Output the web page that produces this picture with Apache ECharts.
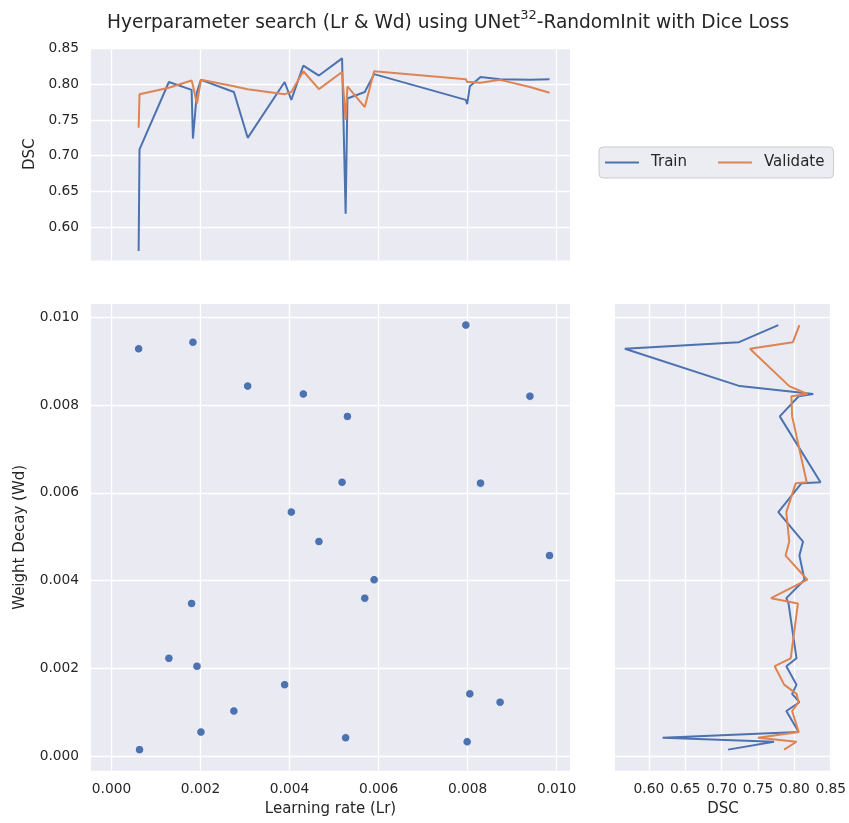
<!DOCTYPE html>
<html>
<head>
<meta charset="utf-8">
<title>Hyperparameter search</title>
<script src="https://cdn.jsdelivr.net/npm/echarts@6/dist/echarts.min.js"></script>
<style>
  html, body { margin: 0; padding: 0; background: #ffffff; }
  #chart { width: 849px; height: 823px; }
</style>
</head>
<body>
<div id="chart"></div>
<script>
// One row per training run: learning rate, weight decay, final train / validation Dice score
const learningRate = [0.00061, 0.00063, 0.00129, 0.00180, 0.00183, 0.00192, 0.00201, 0.00275, 0.00306,
  0.00389, 0.00404, 0.00431, 0.00466, 0.00518, 0.00526, 0.00530, 0.00569, 0.00590,
  0.00796, 0.00799, 0.00805, 0.00829, 0.00873, 0.00940, 0.00984];
const weightDecay = [0.00928, 0.00015, 0.00223, 0.00348, 0.00943, 0.00205, 0.00055, 0.00103, 0.00843,
  0.00163, 0.00556, 0.00825, 0.00489, 0.00624, 0.00042, 0.00774, 0.00360, 0.00402,
  0.00982, 0.00033, 0.00142, 0.00622, 0.00123, 0.00820, 0.00457];
const trainDsc = [0.567, 0.709, 0.803, 0.792, 0.724, 0.789, 0.806, 0.789, 0.725,
  0.803, 0.778, 0.826, 0.812, 0.836, 0.619, 0.780, 0.789, 0.814,
  0.778, 0.772, 0.797, 0.810, 0.807, 0.806, 0.807];
const validateDsc = [0.739, 0.786, 0.795, 0.805, 0.798, 0.773, 0.806, 0.797, 0.793,
  0.786, 0.789, 0.818, 0.793, 0.817, 0.750, 0.797, 0.768, 0.818,
  0.807, 0.803, 0.803, 0.802, 0.806, 0.796, 0.788];

const seriesNames = ['Train', 'Validate'];
const titleParts = ['Hyerparameter search (Lr & Wd) using UNet', '32', '-RandomInit with Dice Loss'];

// Axis extents (data range plus a 5% margin) and tick steps
const lrRange = [-0.00046, 0.0103];
const wdRange = [-0.00033, 0.0103];
const dscRange = [0.5535, 0.8505];
const lrStep = 0.002, wdStep = 0.002, dscStep = 0.05;

const BLUE = '#4C72B0', ORANGE = '#DD8452';
const FACE = '#EAEAF2', TEXT = '#262626';
const FONT = 'DejaVu Sans';

const byLr = learningRate.map((_, i) => i).sort((a, b) => learningRate[a] - learningRate[b]);
const byWd = weightDecay.map((_, i) => i).sort((a, b) => weightDecay[a] - weightDecay[b]);

const gridBox = [
  { left: 91, top: 48, width: 479, height: 212.6, backgroundColor: FACE, show: true, borderWidth: 0 },   // marginal: Lr vs DSC
  { left: 91, top: 304, width: 479, height: 466.7, backgroundColor: FACE, show: true, borderWidth: 0 },  // joint: Lr vs Wd
  { left: 615, top: 304, width: 217.3, height: 466.7, backgroundColor: FACE, show: true, borderWidth: 0 } // marginal: DSC vs Wd
];

function valueAxis(gridIndex, range, step, decimals, opts) {
  return Object.assign({
    type: 'value',
    gridIndex: gridIndex,
    min: range[0],
    max: range[1],
    minInterval: step,
    maxInterval: step,
    axisLine: { show: false },
    axisTick: { show: false },
    axisLabel: {
      show: true,
      showMinLabel: false,
      showMaxLabel: false,
      color: TEXT,
      fontFamily: FONT,
      fontSize: 13.75,
      margin: 12,
      formatter: v => v.toFixed(decimals)
    },
    splitLine: {
      show: true,
      showMinLine: false,
      showMaxLine: false,
      lineStyle: { color: '#ffffff', width: 1.3 }
    },
    nameTextStyle: { color: TEXT, fontFamily: FONT, fontSize: 15 }
  }, opts || {});
}

const xAxes = [
  valueAxis(0, lrRange, lrStep, 3),
  valueAxis(1, lrRange, lrStep, 3, { name: 'Learning rate (Lr)', nameLocation: 'middle', nameGap: 31 }),
  valueAxis(2, dscRange, dscStep, 2, { name: 'DSC', nameLocation: 'middle', nameGap: 31 })
];
// the marginal panels share their axis with the joint panel, so they carry no tick text there
xAxes[0].axisLabel = { show: false };

const yAxes = [
  valueAxis(0, dscRange, dscStep, 2, { name: 'DSC', nameLocation: 'middle', nameGap: 44 }),
  valueAxis(1, wdRange, wdStep, 3, { name: 'Weight Decay (Wd)', nameLocation: 'middle', nameGap: 63 }),
  valueAxis(2, wdRange, wdStep, 3)
];
yAxes[2].axisLabel = { show: false };

const lineStyle = color => ({ color: color, width: 2 });

const series = [
  {
    name: seriesNames[0], type: 'line', xAxisIndex: 0, yAxisIndex: 0,
    showSymbol: false, color: BLUE, lineStyle: lineStyle(BLUE), z: 3,
    data: byLr.map(i => [learningRate[i], trainDsc[i]])
  },
  {
    name: seriesNames[1], type: 'line', xAxisIndex: 0, yAxisIndex: 0,
    showSymbol: false, color: ORANGE, lineStyle: lineStyle(ORANGE), z: 4,
    data: byLr.map(i => [learningRate[i], validateDsc[i]])
  },
  {
    name: 'runs', type: 'scatter', xAxisIndex: 1, yAxisIndex: 1,
    symbolSize: 8.5,
    itemStyle: { color: BLUE, borderColor: '#ffffff', borderWidth: 0.8, opacity: 1 },
    data: learningRate.map((v, i) => [v, weightDecay[i]])
  },
  {
    name: seriesNames[0], type: 'line', xAxisIndex: 2, yAxisIndex: 2,
    showSymbol: false, color: BLUE, lineStyle: lineStyle(BLUE), z: 3,
    data: byWd.map(i => [trainDsc[i], weightDecay[i]])
  },
  {
    name: seriesNames[1], type: 'line', xAxisIndex: 2, yAxisIndex: 2,
    showSymbol: false, color: ORANGE, lineStyle: lineStyle(ORANGE), z: 4,
    data: byWd.map(i => [validateDsc[i], weightDecay[i]])
  }
];

const chart = echarts.init(document.getElementById('chart'), null, { renderer: 'canvas' });
chart.setOption({
  animation: false,
  backgroundColor: '#ffffff',
  title: {
    left: 102,
    top: 4,
    text: '{a|' + titleParts[0] + '}{s|' + titleParts[1] + '}{a|' + titleParts[2] + '}',
    textStyle: {
      fontWeight: 'normal',
      rich: {
        a: { fontFamily: FONT, fontSize: 18.6, fontWeight: 'normal', color: TEXT, lineHeight: 24, verticalAlign: 'bottom' },
        s: { fontFamily: FONT, fontSize: 13, fontWeight: 'normal', color: TEXT, lineHeight: 24, verticalAlign: 'top' }
      }
    }
  },
  legend: {
    data: seriesNames,
    left: 599,
    top: 147,
    orient: 'horizontal',
    icon: 'rect',
    itemWidth: 34,
    itemHeight: 2,
    itemGap: 31,
    padding: [7, 9, 7, 6],
    backgroundColor: '#ececf3',
    borderColor: '#cccccc',
    borderWidth: 1,
    borderRadius: 4,
    selectedMode: false,
    textStyle: { color: TEXT, fontFamily: FONT, fontSize: 15, lineHeight: 17, padding: [0, 0, 0, 7] }
  },
  grid: gridBox,
  xAxis: xAxes,
  yAxis: yAxes,
  series: series
});
</script>
</body>
</html>
